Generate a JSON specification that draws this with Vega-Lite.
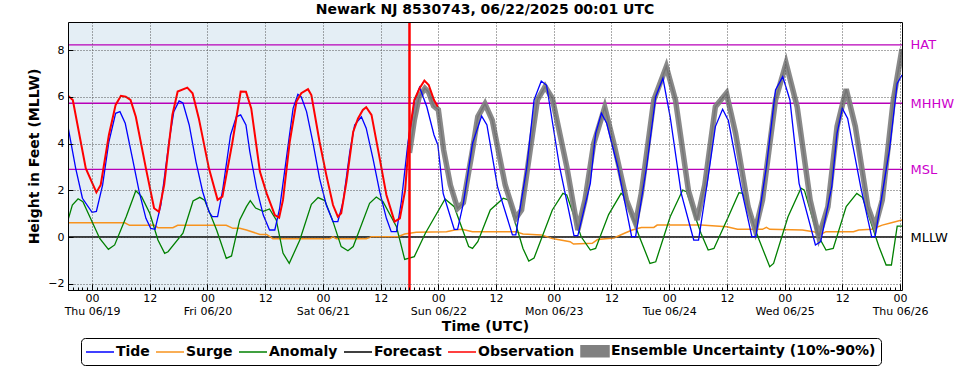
{
"$schema": "https://vega.github.io/schema/vega-lite/v6.json",
"width": 834, "height": 268,
"autosize": {"type": "none"},
"padding": {"left": 68, "top": 22, "right": 67, "bottom": 80},
"background": "white",
"title": {"text": "Newark NJ 8530743, 06/22/2025 00:01 UTC", "font": "DejaVu Sans", "fontSize": 14, "fontWeight": "bold", "color": "black", "anchor": "middle", "offset": 4},
"config": {"view": {"stroke": null}},
"datasets": {
"nowband": [{"start": "2025-06-18T19:00:00Z", "nowt": "2025-06-21T18:00:00Z"}],
"datums": [{"name": "HAT", "v": 8.23}, {"name": "MHHW", "v": 5.73}, {"name": "MSL", "v": 2.90}, {"name": "MLLW", "v": 0}],
"obs": [
{"t":"2025-06-18T19:00Z","v":6.05},{"t":"2025-06-18T20:00Z","v":5.87},{"t":"2025-06-18T22:42Z","v":2.94},{"t":"2025-06-19T00:54Z","v":1.91},{"t":"2025-06-19T01:48Z","v":2.23},{"t":"2025-06-19T03:30Z","v":4.37},{"t":"2025-06-19T04:54Z","v":5.66},{"t":"2025-06-19T06:00Z","v":6.05},{"t":"2025-06-19T07:00Z","v":6.01},{"t":"2025-06-19T08:00Z","v":5.87},{"t":"2025-06-19T09:06Z","v":5.15},{"t":"2025-06-19T11:12Z","v":2.94},{"t":"2025-06-19T12:54Z","v":1.23},{"t":"2025-06-19T13:54Z","v":1.08},{"t":"2025-06-19T15:00Z","v":2.23},{"t":"2025-06-19T16:42Z","v":5.23},{"t":"2025-06-19T17:48Z","v":6.23},{"t":"2025-06-19T19:48Z","v":6.40},{"t":"2025-06-19T20:54Z","v":6.16},{"t":"2025-06-19T22:12Z","v":5.08},{"t":"2025-06-20T00:18Z","v":2.94},{"t":"2025-06-20T02:06Z","v":1.59},{"t":"2025-06-20T03:06Z","v":1.73},{"t":"2025-06-20T05:12Z","v":4.08},{"t":"2025-06-20T06:54Z","v":6.23},{"t":"2025-06-20T08:00Z","v":6.22},{"t":"2025-06-20T09:06Z","v":5.51},{"t":"2025-06-20T10:54Z","v":2.8},{"t":"2025-06-20T12:18Z","v":1.87},{"t":"2025-06-20T14:00Z","v":0.94},{"t":"2025-06-20T14:54Z","v":0.83},{"t":"2025-06-20T15:42Z","v":1.59},{"t":"2025-06-20T17:06Z","v":4.08},{"t":"2025-06-20T18:30Z","v":5.8},{"t":"2025-06-20T19:30Z","v":6.16},{"t":"2025-06-20T20:54Z","v":6.33},{"t":"2025-06-20T21:36Z","v":6.08},{"t":"2025-06-20T23:18Z","v":4.08},{"t":"2025-06-21T00:42Z","v":2.66},{"t":"2025-06-21T02:06Z","v":1.37},{"t":"2025-06-21T03:06Z","v":0.87},{"t":"2025-06-21T03:48Z","v":1.02},{"t":"2025-06-21T04:54Z","v":2.37},{"t":"2025-06-21T06:18Z","v":4.51},{"t":"2025-06-21T07:18Z","v":5.08},{"t":"2025-06-21T08:18Z","v":5.44},{"t":"2025-06-21T09:00Z","v":5.56},{"t":"2025-06-21T10:06Z","v":5.23},{"t":"2025-06-21T11:48Z","v":3.37},{"t":"2025-06-21T13:12Z","v":1.80},{"t":"2025-06-21T14:54Z","v":0.66},{"t":"2025-06-21T16:00Z","v":0.8},{"t":"2025-06-21T17:06Z","v":2.01},{"t":"2025-06-21T18:00Z","v":4.45},{"t":"2025-06-21T19:00Z","v":5.87},{"t":"2025-06-21T20:06Z","v":6.37},{"t":"2025-06-21T21:06Z","v":6.70},{"t":"2025-06-21T22:00Z","v":6.51},{"t":"2025-06-21T23:06Z","v":5.87},{"t":"2025-06-21T23:54Z","v":5.58}
],
"tide": [
{"t":"2025-06-18T19:00Z","v":4.73},{"t":"2025-06-18T20:36Z","v":2.94},{"t":"2025-06-18T22:00Z","v":1.66},{"t":"2025-06-19T00:00Z","v":1.06},{"t":"2025-06-19T00:54Z","v":1.1},{"t":"2025-06-19T02:12Z","v":2.23},{"t":"2025-06-19T03:30Z","v":4.08},{"t":"2025-06-19T04:54Z","v":5.3},{"t":"2025-06-19T05:48Z","v":5.37},{"t":"2025-06-19T06:54Z","v":4.87},{"t":"2025-06-19T08:24Z","v":3.37},{"t":"2025-06-19T09:48Z","v":1.94},{"t":"2025-06-19T11:12Z","v":0.8},{"t":"2025-06-19T12:12Z","v":0.37},{"t":"2025-06-19T13:06Z","v":0.33},{"t":"2025-06-19T14:18Z","v":1.37},{"t":"2025-06-19T16:00Z","v":4.08},{"t":"2025-06-19T17:00Z","v":5.37},{"t":"2025-06-19T18:06Z","v":5.83},{"t":"2025-06-19T18:54Z","v":5.74},{"t":"2025-06-19T20:12Z","v":4.8},{"t":"2025-06-19T21:36Z","v":3.23},{"t":"2025-06-19T23:00Z","v":1.94},{"t":"2025-06-20T00:18Z","v":1.08},{"t":"2025-06-20T01:00Z","v":0.87},{"t":"2025-06-20T02:06Z","v":0.87},{"t":"2025-06-20T03:06Z","v":1.94},{"t":"2025-06-20T04:48Z","v":4.37},{"t":"2025-06-20T06:00Z","v":5.15},{"t":"2025-06-20T06:54Z","v":5.23},{"t":"2025-06-20T08:00Z","v":4.8},{"t":"2025-06-20T08:48Z","v":3.66},{"t":"2025-06-20T10:12Z","v":2.09},{"t":"2025-06-20T11:36Z","v":0.94},{"t":"2025-06-20T12:54Z","v":0.30},{"t":"2025-06-20T14:00Z","v":0.3},{"t":"2025-06-20T15:00Z","v":1.23},{"t":"2025-06-20T16:24Z","v":3.37},{"t":"2025-06-20T17:48Z","v":5.51},{"t":"2025-06-20T18:48Z","v":6.11},{"t":"2025-06-20T19:30Z","v":6.0},{"t":"2025-06-20T20:36Z","v":5.37},{"t":"2025-06-20T21:54Z","v":4.08},{"t":"2025-06-20T23:18Z","v":2.51},{"t":"2025-06-21T00:42Z","v":1.37},{"t":"2025-06-21T02:06Z","v":0.66},{"t":"2025-06-21T03:06Z","v":0.66},{"t":"2025-06-21T04:12Z","v":1.51},{"t":"2025-06-21T05:36Z","v":3.66},{"t":"2025-06-21T06:36Z","v":4.8},{"t":"2025-06-21T08:00Z","v":5.15},{"t":"2025-06-21T09:00Z","v":4.66},{"t":"2025-06-21T10:24Z","v":3.37},{"t":"2025-06-21T11:48Z","v":1.94},{"t":"2025-06-21T13:12Z","v":0.8},{"t":"2025-06-21T14:12Z","v":0.23},{"t":"2025-06-21T15:18Z","v":0.23},{"t":"2025-06-21T16:18Z","v":1.51},{"t":"2025-06-21T17:42Z","v":4.08},{"t":"2025-06-21T19:06Z","v":5.87},{"t":"2025-06-21T20:06Z","v":6.41},{"t":"2025-06-21T21:36Z","v":5.58},{"t":"2025-06-21T23:06Z","v":4.37},{"t":"2025-06-21T23:54Z","v":3.94},{"t":"2025-06-22T01:00Z","v":1.87},{"t":"2025-06-22T03:18Z","v":0.33},{"t":"2025-06-22T04:00Z","v":0.33},{"t":"2025-06-22T05:12Z","v":1.44},{"t":"2025-06-22T07:06Z","v":4.01},{"t":"2025-06-22T09:00Z","v":5.18},{"t":"2025-06-22T10:06Z","v":4.8},{"t":"2025-06-22T12:18Z","v":2.16},{"t":"2025-06-22T15:24Z","v":0.09},{"t":"2025-06-22T16:06Z","v":0.09},{"t":"2025-06-22T18:24Z","v":3.01},{"t":"2025-06-22T19:54Z","v":5.87},{"t":"2025-06-22T21:24Z","v":6.68},{"t":"2025-06-22T22:30Z","v":6.5},{"t":"2025-06-23T01:12Z","v":3.01},{"t":"2025-06-23T04:12Z","v":0.06},{"t":"2025-06-23T05:00Z","v":0.06},{"t":"2025-06-23T07:36Z","v":2.3},{"t":"2025-06-23T08:42Z","v":4.44},{"t":"2025-06-23T09:54Z","v":5.3},{"t":"2025-06-23T11:00Z","v":4.87},{"t":"2025-06-23T13:18Z","v":3.01},{"t":"2025-06-23T16:12Z","v":0.01},{"t":"2025-06-23T17:00Z","v":0.01},{"t":"2025-06-23T19:18Z","v":3.01},{"t":"2025-06-23T21:12Z","v":6.01},{"t":"2025-06-23T22:42Z","v":6.8},{"t":"2025-06-24T00:12Z","v":5.15},{"t":"2025-06-24T02:30Z","v":1.87},{"t":"2025-06-24T05:06Z","v":-0.13},{"t":"2025-06-24T06:06Z","v":-0.13},{"t":"2025-06-24T08:06Z","v":2.58},{"t":"2025-06-24T09:36Z","v":4.73},{"t":"2025-06-24T11:06Z","v":5.47},{"t":"2025-06-24T12:18Z","v":4.99},{"t":"2025-06-24T14:54Z","v":2.16},{"t":"2025-06-24T17:12Z","v":0.01},{"t":"2025-06-24T18:00Z","v":0.01},{"t":"2025-06-24T20:12Z","v":3.01},{"t":"2025-06-24T22:06Z","v":6.3},{"t":"2025-06-24T23:36Z","v":6.87},{"t":"2025-06-25T01:06Z","v":5.87},{"t":"2025-06-25T03:00Z","v":2.3},{"t":"2025-06-25T06:24Z","v":-0.34},{"t":"2025-06-25T07:30Z","v":-0.2},{"t":"2025-06-25T09:48Z","v":2.16},{"t":"2025-06-25T10:54Z","v":4.44},{"t":"2025-06-25T12:00Z","v":5.51},{"t":"2025-06-25T13:06Z","v":5.08},{"t":"2025-06-25T15:48Z","v":2.16},{"t":"2025-06-25T18:06Z","v":0.01},{"t":"2025-06-25T18:48Z","v":0.01},{"t":"2025-06-25T21:48Z","v":3.73},{"t":"2025-06-25T23:24Z","v":6.58},{"t":"2025-06-26T00:24Z","v":6.94}
],
"forecast": [
{"t":"2025-06-21T18:00Z","v":3.6},{"t":"2025-06-21T19:00Z","v":5.0},{"t":"2025-06-21T20:00Z","v":6.0},{"t":"2025-06-21T21:12Z","v":6.37},{"t":"2025-06-21T22:00Z","v":6.2},{"t":"2025-06-21T23:00Z","v":5.62},{"t":"2025-06-22T00:00Z","v":5.45},{"t":"2025-06-22T01:06Z","v":3.73},{"t":"2025-06-22T02:30Z","v":2.23},{"t":"2025-06-22T04:00Z","v":1.23},{"t":"2025-06-22T05:12Z","v":1.47},{"t":"2025-06-22T07:06Z","v":3.73},{"t":"2025-06-22T08:12Z","v":5.15},{"t":"2025-06-22T09:42Z","v":5.70},{"t":"2025-06-22T11:12Z","v":5.01},{"t":"2025-06-22T13:54Z","v":2.23},{"t":"2025-06-22T16:06Z","v":0.80},{"t":"2025-06-22T17:18Z","v":1.16},{"t":"2025-06-22T19:06Z","v":3.73},{"t":"2025-06-22T20:36Z","v":5.87},{"t":"2025-06-22T22:12Z","v":6.44},{"t":"2025-06-22T23:42Z","v":5.94},{"t":"2025-06-23T02:42Z","v":3.01},{"t":"2025-06-23T05:00Z","v":0.30},{"t":"2025-06-23T06:30Z","v":1.59},{"t":"2025-06-23T08:18Z","v":4.0},{"t":"2025-06-23T10:36Z","v":5.56},{"t":"2025-06-23T12:30Z","v":4.0},{"t":"2025-06-23T15:06Z","v":1.59},{"t":"2025-06-23T17:00Z","v":0.59},{"t":"2025-06-23T18:12Z","v":1.87},{"t":"2025-06-23T20:48Z","v":5.87},{"t":"2025-06-23T23:24Z","v":7.30},{"t":"2025-06-24T01:18Z","v":5.87},{"t":"2025-06-24T04:00Z","v":1.99},{"t":"2025-06-24T05:48Z","v":0.73},{"t":"2025-06-24T07:24Z","v":2.23},{"t":"2025-06-24T09:36Z","v":5.58},{"t":"2025-06-24T11:54Z","v":6.16},{"t":"2025-06-24T13:48Z","v":4.44},{"t":"2025-06-24T16:24Z","v":1.30},{"t":"2025-06-24T17:54Z","v":0.30},{"t":"2025-06-24T19:24Z","v":1.59},{"t":"2025-06-24T22:06Z","v":5.87},{"t":"2025-06-25T00:18Z","v":7.44},{"t":"2025-06-25T02:36Z","v":5.58},{"t":"2025-06-25T05:18Z","v":1.59},{"t":"2025-06-25T07:06Z","v":0.01},{"t":"2025-06-25T09:00Z","v":1.30},{"t":"2025-06-25T10:54Z","v":4.73},{"t":"2025-06-25T12:48Z","v":6.33},{"t":"2025-06-25T14:42Z","v":4.73},{"t":"2025-06-25T17:18Z","v":1.30},{"t":"2025-06-25T18:48Z","v":0.44},{"t":"2025-06-25T20:18Z","v":1.59},{"t":"2025-06-25T22:36Z","v":5.87},{"t":"2025-06-26T00:24Z","v":8.05}
],
"anomaly": [
{"t":"2025-06-18T19:00Z","v":0.73},{"t":"2025-06-18T19:54Z","v":1.37},{"t":"2025-06-18T21:06Z","v":1.64},{"t":"2025-06-18T22:06Z","v":1.51},{"t":"2025-06-19T01:36Z","v":-0.06},{"t":"2025-06-19T03:24Z","v":-0.53},{"t":"2025-06-19T04:42Z","v":-0.34},{"t":"2025-06-19T07:06Z","v":0.87},{"t":"2025-06-19T09:06Z","v":1.98},{"t":"2025-06-19T10:18Z","v":1.73},{"t":"2025-06-19T12:00Z","v":1.02},{"t":"2025-06-19T13:42Z","v":-0.13},{"t":"2025-06-19T15:06Z","v":-0.70},{"t":"2025-06-19T15:48Z","v":-0.63},{"t":"2025-06-19T18:54Z","v":0.16},{"t":"2025-06-19T21:00Z","v":1.54},{"t":"2025-06-19T22:24Z","v":1.70},{"t":"2025-06-19T23:24Z","v":1.58},{"t":"2025-06-20T01:54Z","v":0.30},{"t":"2025-06-20T03:54Z","v":-0.91},{"t":"2025-06-20T05:00Z","v":-0.81},{"t":"2025-06-20T06:42Z","v":0.73},{"t":"2025-06-20T08:06Z","v":1.30},{"t":"2025-06-20T08:54Z","v":1.56},{"t":"2025-06-20T10:00Z","v":1.24},{"t":"2025-06-20T11:36Z","v":1.10},{"t":"2025-06-20T12:54Z","v":1.20},{"t":"2025-06-20T14:18Z","v":0.73},{"t":"2025-06-20T15:42Z","v":-0.69},{"t":"2025-06-20T17:00Z","v":-1.13},{"t":"2025-06-20T19:12Z","v":-0.13},{"t":"2025-06-20T21:36Z","v":1.40},{"t":"2025-06-20T23:00Z","v":1.69},{"t":"2025-06-21T00:24Z","v":1.56},{"t":"2025-06-21T02:06Z","v":0.66},{"t":"2025-06-21T03:48Z","v":-0.41},{"t":"2025-06-21T05:12Z","v":-0.59},{"t":"2025-06-21T06:18Z","v":-0.41},{"t":"2025-06-21T09:42Z","v":1.44},{"t":"2025-06-21T11:06Z","v":1.71},{"t":"2025-06-21T12:30Z","v":1.51},{"t":"2025-06-21T15:18Z","v":0.44},{"t":"2025-06-21T17:00Z","v":-0.96},{"t":"2025-06-21T19:00Z","v":-0.84},{"t":"2025-06-21T21:18Z","v":0.16},{"t":"2025-06-22T01:24Z","v":1.63},{"t":"2025-06-22T03:18Z","v":1.30},{"t":"2025-06-22T06:18Z","v":-0.41},{"t":"2025-06-22T07:06Z","v":-0.49},{"t":"2025-06-22T08:12Z","v":-0.2},{"t":"2025-06-22T10:48Z","v":1.16},{"t":"2025-06-22T13:30Z","v":1.66},{"t":"2025-06-22T14:36Z","v":1.58},{"t":"2025-06-22T17:36Z","v":-0.49},{"t":"2025-06-22T18:48Z","v":-1.03},{"t":"2025-06-22T19:54Z","v":-0.9},{"t":"2025-06-22T23:42Z","v":1.16},{"t":"2025-06-23T01:54Z","v":1.87},{"t":"2025-06-23T02:42Z","v":1.8},{"t":"2025-06-23T05:42Z","v":0.01},{"t":"2025-06-23T07:36Z","v":-0.56},{"t":"2025-06-23T08:42Z","v":-0.49},{"t":"2025-06-23T11:24Z","v":0.96},{"t":"2025-06-23T14:00Z","v":1.87},{"t":"2025-06-23T14:42Z","v":1.73},{"t":"2025-06-23T17:48Z","v":0.01},{"t":"2025-06-23T20:00Z","v":-1.13},{"t":"2025-06-23T21:12Z","v":-1.06},{"t":"2025-06-24T00:12Z","v":0.87},{"t":"2025-06-24T02:48Z","v":2.01},{"t":"2025-06-24T03:36Z","v":1.94},{"t":"2025-06-24T06:36Z","v":0.16},{"t":"2025-06-24T08:06Z","v":-0.56},{"t":"2025-06-24T09:18Z","v":-0.49},{"t":"2025-06-24T12:18Z","v":0.87},{"t":"2025-06-24T14:30Z","v":1.9},{"t":"2025-06-24T15:18Z","v":1.87},{"t":"2025-06-24T18:42Z","v":-0.13},{"t":"2025-06-24T20:54Z","v":-1.27},{"t":"2025-06-24T21:42Z","v":-1.13},{"t":"2025-06-25T00:42Z","v":0.87},{"t":"2025-06-25T03:24Z","v":2.09},{"t":"2025-06-25T04:06Z","v":2.01},{"t":"2025-06-25T06:42Z","v":0.16},{"t":"2025-06-25T08:36Z","v":-0.56},{"t":"2025-06-25T10:06Z","v":-0.49},{"t":"2025-06-25T12:48Z","v":1.30},{"t":"2025-06-25T15:00Z","v":1.87},{"t":"2025-06-25T16:12Z","v":1.69},{"t":"2025-06-25T19:36Z","v":-0.41},{"t":"2025-06-25T21:06Z","v":-1.2},{"t":"2025-06-25T22:12Z","v":-1.2},{"t":"2025-06-25T23:24Z","v":0.47},{"t":"2025-06-26T00:24Z","v":0.47}
],
"surge": [
{"t":"2025-06-18T19:00Z","v":0.61},{"t":"2025-06-19T06:48Z","v":0.61},{"t":"2025-06-19T07:48Z","v":0.50},{"t":"2025-06-19T13:00Z","v":0.50},{"t":"2025-06-19T13:42Z","v":0.40},{"t":"2025-06-19T16:48Z","v":0.40},{"t":"2025-06-19T17:48Z","v":0.50},{"t":"2025-06-20T03:54Z","v":0.50},{"t":"2025-06-20T05:18Z","v":0.37},{"t":"2025-06-20T06:42Z","v":0.37},{"t":"2025-06-20T08:06Z","v":0.30},{"t":"2025-06-20T10:54Z","v":0.11},{"t":"2025-06-20T12:18Z","v":0.11},{"t":"2025-06-20T13:36Z","v":-0.07},{"t":"2025-06-21T01:24Z","v":-0.07},{"t":"2025-06-21T02:06Z","v":0.01},{"t":"2025-06-21T02:48Z","v":-0.07},{"t":"2025-06-21T09:00Z","v":-0.07},{"t":"2025-06-21T10:06Z","v":0.01},{"t":"2025-06-21T15:36Z","v":0.01},{"t":"2025-06-21T17:00Z","v":0.13},{"t":"2025-06-21T19:24Z","v":0.2},{"t":"2025-06-22T01:42Z","v":0.23},{"t":"2025-06-22T03:24Z","v":0.30},{"t":"2025-06-22T04:54Z","v":0.33},{"t":"2025-06-22T07:06Z","v":0.23},{"t":"2025-06-22T16:06Z","v":0.23},{"t":"2025-06-22T17:36Z","v":0.13},{"t":"2025-06-22T21:24Z","v":0.09},{"t":"2025-06-22T23:42Z","v":-0.06},{"t":"2025-06-23T03:24Z","v":-0.2},{"t":"2025-06-23T04:06Z","v":-0.3},{"t":"2025-06-23T08:00Z","v":-0.27},{"t":"2025-06-23T09:06Z","v":-0.11},{"t":"2025-06-23T12:30Z","v":-0.04},{"t":"2025-06-23T14:42Z","v":0.16},{"t":"2025-06-23T16:18Z","v":0.30},{"t":"2025-06-23T18:12Z","v":0.41},{"t":"2025-06-23T20:48Z","v":0.41},{"t":"2025-06-23T21:30Z","v":0.51},{"t":"2025-06-24T06:36Z","v":0.51},{"t":"2025-06-24T12:00Z","v":0.44},{"t":"2025-06-24T14:12Z","v":0.33},{"t":"2025-06-24T19:24Z","v":0.33},{"t":"2025-06-24T20:12Z","v":0.41},{"t":"2025-06-24T20:54Z","v":0.33},{"t":"2025-06-25T03:42Z","v":0.30},{"t":"2025-06-25T06:00Z","v":0.23},{"t":"2025-06-25T07:30Z","v":0.11},{"t":"2025-06-25T08:36Z","v":0.23},{"t":"2025-06-25T14:18Z","v":0.23},{"t":"2025-06-25T15:24Z","v":0.30},{"t":"2025-06-25T18:06Z","v":0.33},{"t":"2025-06-25T20:18Z","v":0.51},{"t":"2025-06-25T22:12Z","v":0.61},{"t":"2025-06-26T00:24Z","v":0.73}
]
},
"layer": [
{"data": {"name": "nowband"}, "mark": {"type": "rect", "color": "#e4eef5"},
 "encoding": {
  "x": {"field": "start", "type": "temporal",
        "axis": {"orient": "bottom", "tickCount": 174, "labels": false, "grid": false, "domain": false, "ticks": true, "tickSize": -3, "tickColor": "black", "tickWidth": 1, "title": null, "zindex": 1}},
  "x2": {"field": "nowt"}}},
{"data": {"name": "datums"}, "mark": {"type": "rule", "strokeWidth": 1.3},
 "encoding": {
  "y": {"field": "v", "type": "quantitative",
        "axis": {"orient": "right", "values": [0, 2.9, 5.73, 8.23], "labelExpr": "datum.value == 0 ? 'MLLW' : datum.value < 3 ? 'MSL' : datum.value < 6 ? 'MHHW' : 'HAT'", "ticks": false, "grid": false, "domain": true, "domainColor": "black", "domainWidth": 1, "labelPadding": 8, "labelFont": "DejaVu Sans", "labelFontSize": 13, "labelColor": {"condition": {"test": "datum.value == 0", "value": "black"}, "value": "#cc00cc"}, "title": null, "zindex": 1}},
  "color": {"condition": {"test": "datum.name == 'MLLW'", "value": "black"}, "value": "#b800b8"}}},
{"data": {"name": "surge"}, "mark": {"type": "line", "strokeWidth": 1.5, "clip": true},
 "encoding": {
  "x": {"field": "t", "type": "temporal",
        "scale": {"type": "utc", "nice": false},
        "axis": {"orient": "bottom", "title": "Time (UTC)", "titleFont": "DejaVu Sans", "titleFontSize": 14, "titleFontWeight": "bold", "titleColor": "black", "titlePadding": 3,
                 "tickCount": 14,
                 "labelExpr": "utchours(datum.value) == 0 ? ['00', utcFormat(datum.value, '%a %m/%d')] : '12'",
                 "labelFont": "DejaVu Sans", "labelFontSize": 11, "labelColor": "black", "labelLineHeight": 13, "labelOverlap": false, "labelFlush": false,
                 "tickSize": -6, "tickColor": "black", "labelPadding": 8,
                 "grid": true, "gridColor": "#555555", "gridDash": [1, 2], "gridWidth": 1,
                 "domain": true, "domainColor": "black", "domainWidth": 1, "zindex": 1}},
  "y": {"field": "v", "type": "quantitative", "scale": {"domain": [-2.27, 9.21], "nice": false, "zero": false},
        "axis": {"orient": "left", "title": "Height in Feet (MLLW)", "titleFont": "DejaVu Sans", "titleFontSize": 14, "titleFontWeight": "bold", "titleColor": "black", "titlePadding": 6,
                 "values": [-2, 0, 2, 4, 6, 8], "labelFont": "DejaVu Sans", "labelFontSize": 11, "labelColor": "black",
                 "tickSize": -5, "tickColor": "black", "labelPadding": 9,
                 "grid": true, "gridColor": "#555555", "gridDash": [1, 2], "gridWidth": 1,
                 "domain": true, "domainColor": "black", "domainWidth": 1, "zindex": 1}},
  "color": {"datum": "Surge", "type": "nominal",
            "scale": {"domain": ["Tide", "Surge", "Anomaly", "Forecast", "Observation", "Ensemble Uncertainty (10%-90%)"], "range": ["#0000ff", "#f7931e", "#008000", "#000000", "#ff0000", "#808080"]},
            "legend": {"orient": "none", "legendX": 13, "legendY": 316, "direction": "horizontal", "columns": 6, "title": null,
                       "symbolType": "stroke", "symbolSize": 196, "symbolStrokeWidth": 1.5, "symbolOffset": 6,
                       "labelFont": "DejaVu Sans", "labelFontSize": 14, "labelFontWeight": "bold", "labelColor": "black", "labelLimit": 400, "labelOffset": 8,
                       "columnPadding": 3, "padding": 5, "strokeColor": "black", "fillColor": "white", "cornerRadius": 4,
                       "encode": {"symbols": {"update": {
                         "shape": {"signal": "datum.value === 'Ensemble Uncertainty (10%-90%)' ? 'M-2,-0.78L2,-0.78L2,0.78L-2,0.78Z' : 'M-2,0L2,0'"},
                         "fill": {"signal": "datum.value === 'Ensemble Uncertainty (10%-90%)' ? '#808080' : 'transparent'"}}}}}}}},
{"data": {"name": "anomaly"}, "mark": {"type": "line", "strokeWidth": 1.3, "clip": true},
 "encoding": {"x": {"field": "t", "type": "temporal", "axis": null}, "y": {"field": "v", "type": "quantitative", "axis": null}, "color": {"datum": "Anomaly", "type": "nominal"}}},
{"data": {"name": "forecast"}, "mark": {"type": "line", "strokeWidth": 1.5, "clip": true},
 "encoding": {"x": {"field": "t", "type": "temporal", "axis": null}, "y": {"field": "v", "type": "quantitative", "axis": null}, "color": {"datum": "Forecast", "type": "nominal"}}},
{"data": {"name": "forecast"}, "mark": {"type": "line", "strokeWidth": 5.5, "clip": true, "opacity": 0.92},
 "encoding": {"x": {"field": "t", "type": "temporal", "axis": null}, "y": {"field": "v", "type": "quantitative", "axis": null}, "color": {"datum": "Ensemble Uncertainty (10%-90%)", "type": "nominal"}}},
{"data": {"name": "tide"}, "mark": {"type": "line", "strokeWidth": 1.3, "clip": true},
 "encoding": {"x": {"field": "t", "type": "temporal", "axis": null}, "y": {"field": "v", "type": "quantitative", "axis": null}, "color": {"datum": "Tide", "type": "nominal"}}},
{"data": {"name": "obs"}, "mark": {"type": "line", "strokeWidth": 2, "clip": true},
 "encoding": {"x": {"field": "t", "type": "temporal", "axis": null}, "y": {"field": "v", "type": "quantitative", "axis": null}, "color": {"datum": "Observation", "type": "nominal"}}},
{"data": {"name": "nowband"}, "mark": {"type": "rule", "color": "#ff0000", "strokeWidth": 2.5},
 "encoding": {"x": {"field": "nowt", "type": "temporal",
   "axis": {"orient": "top", "labels": false, "ticks": false, "grid": false, "domain": true, "domainColor": "black", "domainWidth": 1, "title": null, "zindex": 1}}}}
],
"resolve": {"axis": {"x": "independent", "y": "independent"}}
}
